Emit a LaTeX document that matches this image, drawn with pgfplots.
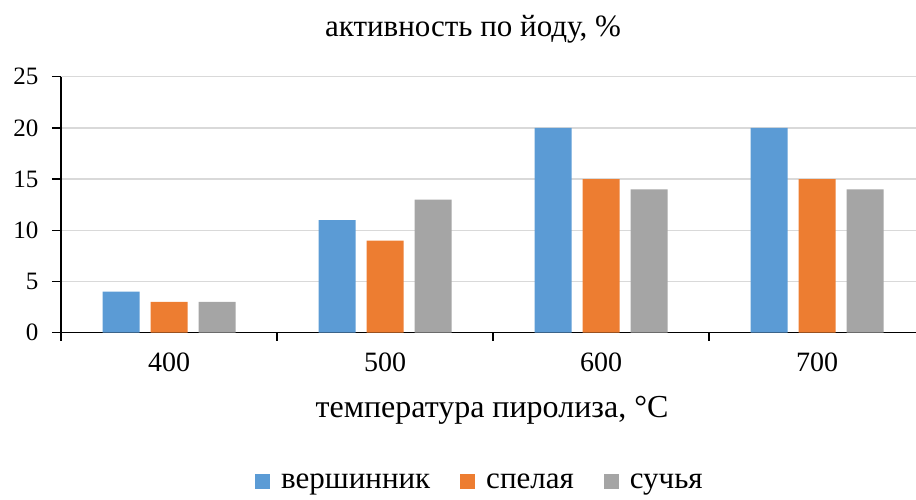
\documentclass[border=0pt]{standalone}
\usepackage{fontspec}
\setmainfont{Liberation Serif}
\usepackage{pgfplots}
\pgfplotsset{compat=1.18}
\definecolor{cblue}{HTML}{5B9BD5}
\definecolor{corange}{HTML}{ED7D31}
\definecolor{cgray}{HTML}{A5A5A5}
\definecolor{cgrid}{HTML}{D9D9D9}
\begin{document}
\begin{tikzpicture}
\begin{axis}[
  name=ax,
  scale only axis,
  width=855pt, height=256pt,
  xmin=-0.5, xmax=3.458,
  ymin=0, ymax=25,
  ybar=11pt, bar width=37pt,
  axis lines*=left,
  axis line style={black, line width=1.3pt},
  xtick={0,1,2,3}, xticklabels={400,500,600,700},
  minor xtick={-0.5,0.5,1.5,2.5},
  ytick={0,5,10,15,20,25},
  tick align=outside,
  major tick length=9pt, minor tick length=8pt,
  major x tick style={draw=none},
  minor x tick style={black, line width=1.3pt},
  major y tick style={black, line width=1.3pt},
  ymajorgrids, grid style={cgrid, line width=1.5pt},
  /pgf/number format/assume math mode=true,
  xticklabel style={font=\fontsize{28}{32}\selectfont, yshift=-8pt},
  yticklabel style={font=\fontsize{25}{30}\selectfont, xshift=-10pt},
  legend style={at={(0.49,-0.584)}, anchor=center, draw=none, legend columns=3,
    font=\fontsize{31}{34}\selectfont,
    /tikz/every odd column/.append style={column sep=9pt},
    /tikz/every even column/.append style={column sep=28pt}},
  legend image code/.code={\fill[#1,draw=none] (0pt,-7pt) rectangle (15pt,8pt);},
]
\addplot[fill=cblue, draw=none] coordinates {(0,4) (1,11) (2,20) (3,20)};
\addplot[fill=corange, draw=none] coordinates {(0,3) (1,9) (2,15) (3,15)};
\addplot[fill=cgray, draw=none] coordinates {(0,3) (1,13) (2,14) (3,14)};
\legend{вершинник, спелая, сучья}
\end{axis}
\node[anchor=base, font=\fontsize{31}{34}\selectfont] at ([xshift=412pt,yshift=40pt]ax.north west) {активность по йоду, \%};
\node[anchor=base, font=\fontsize{32}{36}\selectfont] at ([xshift=431pt,yshift=-84.5pt]ax.south west) {температура пиролиза, °С};
\pgfresetboundingbox
\path ([xshift=-61pt,yshift=-166.5pt]ax.south west) rectangle ([yshift=76.7pt]ax.north east);
\end{tikzpicture}
\end{document}
